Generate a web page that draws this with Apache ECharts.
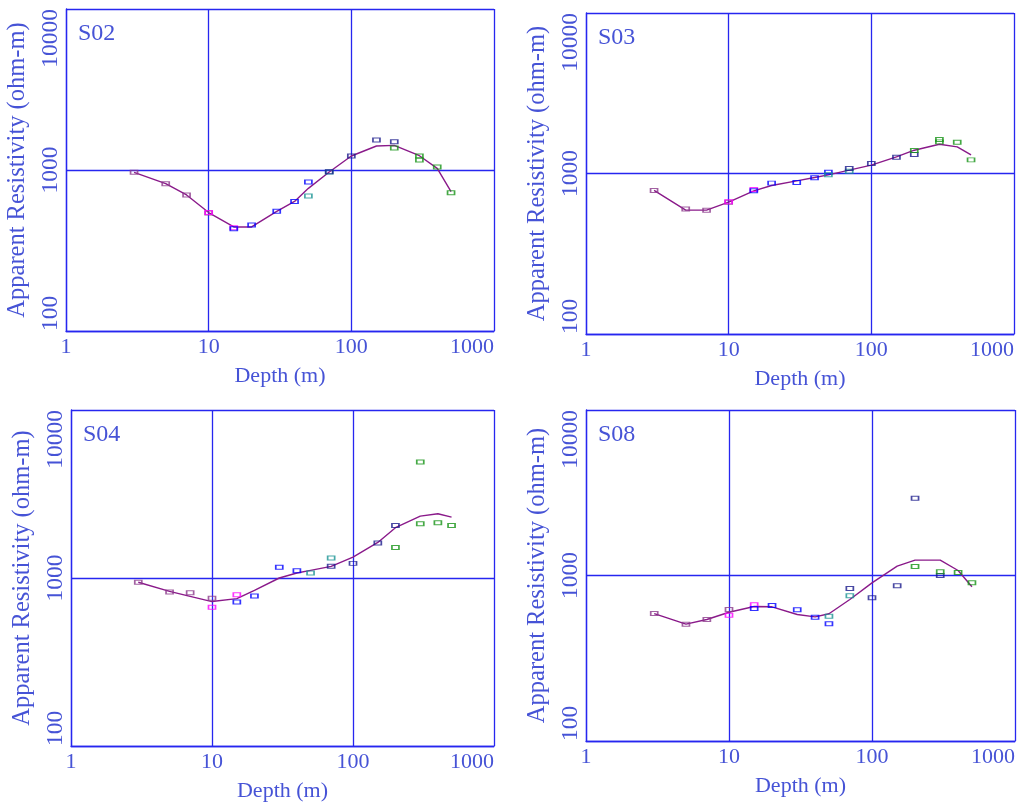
<!DOCTYPE html>
<html>
<head>
<meta charset="utf-8">
<script src="https://cdn.jsdelivr.net/npm/echarts@6/dist/echarts.min.js"></script>
<style>
  html, body { margin: 0; padding: 0; background: #fff; }
  #chart { width: 1026px; height: 803px; }
</style>
</head>
<body>
<div id="chart"></div>
<script>
  // AB/2 spacings used for the model curve
  const depths = [3, 5, 7, 10, 15, 20, 30, 40, 50, 70, 100, 150, 200, 300, 400, 500]
  const xTicks = [1, 10, 100, 1000]
  const yTicks = [100, 1000, 10000]

  // S02
  const s02Model = [967, 822, 700, 544, 443, 443, 554, 638, 769, 972, 1222, 1409, 1422, 1227, 1024, 734]
  const s02Purple = [[3, 967], [5, 822], [7, 700], [10, 541]]
  const s02Magenta = [[10, 545], [15, 438]]
  const s02Blue = [[15, 432], [20, 455], [30, 554], [40, 638], [50, 842]]
  const s02Teal = [[50, 690], [70, 972]]
  const s02Navy = [[70, 975], [100, 1222], [150, 1536], [200, 1500]]
  const s02Green = [[200, 1370], [300, 1222], [300, 1154], [400, 1044], [500, 723]]

  // S03
  const s03Model = [784, 591, 591, 663, 780, 842, 900, 944, 981, 1049, 1127, 1270, 1397, 1522, 1466, 1307]
  const s03Purple = [[3, 784], [5, 600], [7, 591], [10, 663]]
  const s03Magenta = [[10, 666], [15, 795]]
  const s03Blue = [[15, 780], [20, 871], [30, 879], [40, 940], [50, 1019]]
  const s03Teal = [[50, 981], [70, 1034]]
  const s03Navy = [[70, 1074], [100, 1154], [150, 1264], [200, 1313]]
  const s03Green = [[200, 1391], [300, 1628], [300, 1574], [400, 1566], [500, 1216]]

  // S04
  const s04Model = [943, 833, 778, 724, 754, 845, 1000, 1071, 1111, 1173, 1333, 1628, 1992, 2336, 2411, 2303]
  const s04Purple = [[3, 943], [5, 826], [7, 818], [10, 757]]
  const s04Magenta = [[10, 669], [15, 796]]
  const s04Blue = [[15, 720], [20, 782], [30, 1157], [40, 1105]]
  const s04Teal = [[50, 1071], [70, 1315]]
  const s04Navy = [[70, 1173], [100, 1222], [150, 1614], [200, 2055]]
  const s04Green = [[200, 1521], [300, 4909], [300, 2102], [400, 2132], [500, 2055]]

  // S08
  const s08Model = [589, 508, 542, 600, 650, 647, 581, 562, 587, 716, 903, 1138, 1238, 1238, 1072, 855]
  const s08Purple = [[3, 589], [5, 508], [7, 542], [10, 623]]
  const s08Magenta = [[10, 576], [15, 665]]
  const s08Blue = [[15, 632], [20, 659], [30, 620], [40, 560], [50, 511]]
  const s08Teal = [[50, 568], [70, 754]]
  const s08Navy = [[70, 835], [100, 733], [150, 866], [200, 2933], [300, 1000]]
  const s08Green = [[200, 1133], [300, 1052], [400, 1043], [500, 903]]

  const segColors = ['#8b3a8b', '#ff00ff', '#0000ff', '#1a9494', '#1c1c8c', '#169416']
  const lineColor = '#8a1a8a'
  const axisColor = '#2626f0'
  const textColor = '#4653d6'
  const serif = '"Liberation Serif", "DejaVu Serif", serif'

  const panels = [
    { name: 'S02', model: s02Model, segs: [s02Purple, s02Magenta, s02Blue, s02Teal, s02Navy, s02Green],
      grid: { left: 66, top: 9, width: 428, height: 322 } },
    { name: 'S03', model: s03Model, segs: [s03Purple, s03Magenta, s03Blue, s03Teal, s03Navy, s03Green],
      grid: { left: 586, top: 13, width: 428, height: 321 } },
    { name: 'S04', model: s04Model, segs: [s04Purple, s04Magenta, s04Blue, s04Teal, s04Navy, s04Green],
      grid: { left: 71, top: 410, width: 423, height: 337 } },
    { name: 'S08', model: s08Model, segs: [s08Purple, s08Magenta, s08Blue, s08Teal, s08Navy, s08Green],
      grid: { left: 586, top: 410, width: 429, height: 331 } }
  ]

  let option = {
    backgroundColor: '#fff',
    animation: false,
    title: [],
    grid: [],
    xAxis: [],
    yAxis: [],
    series: []
  }

  panels.forEach((p, i) => {
    option.grid.push(p.grid)
    option.title.push({
      text: p.name,
      left: p.grid.left + 7,
      top: p.grid.top + 8,
      textStyle: { color: textColor, fontFamily: serif, fontSize: 24, fontWeight: 'normal' }
    })
    option.xAxis.push({
      type: 'log',
      logBase: 10,
      gridIndex: i,
      min: xTicks[0],
      max: xTicks[xTicks.length - 1],
      name: 'Depth (m)',
      nameLocation: 'middle',
      nameGap: 34,
      nameTextStyle: { color: textColor, fontFamily: serif, fontSize: 22 },
      axisLine: { show: true, lineStyle: { color: axisColor, width: 1.3 } },
      axisTick: { show: false },
      minorTick: { show: false },
      axisLabel: {
        color: textColor, fontFamily: serif, fontSize: 22, margin: 5,
        alignMaxLabel: 'right',
        formatter: v => String(Math.round(v))
      },
      splitLine: { show: true, lineStyle: { color: axisColor, width: 1.3 } }
    })
    option.yAxis.push({
      type: 'log',
      logBase: 10,
      gridIndex: i,
      min: yTicks[0],
      max: yTicks[yTicks.length - 1],
      name: 'Apparent Resistivity (ohm-m)',
      nameLocation: 'middle',
      nameGap: 36,
      nameTextStyle: { color: textColor, fontFamily: serif, fontSize: 24.5 },
      axisLine: { show: true, lineStyle: { color: axisColor, width: 1.3 } },
      axisTick: { show: false },
      axisLabel: {
        color: textColor, fontFamily: serif, fontSize: 23.5, margin: 3, rotate: 90,
        alignMinLabel: 'left',
        alignMaxLabel: 'right',
        formatter: v => String(Math.round(v))
      },
      splitLine: { show: true, lineStyle: { color: axisColor, width: 1.3 } }
    })
    option.series.push({
      type: 'line',
      xAxisIndex: i,
      yAxisIndex: i,
      data: depths.map((d, k) => [d, p.model[k]]),
      symbol: 'none',
      lineStyle: { color: lineColor, width: 1.4 },
      z: 2
    })
    p.segs.forEach((seg, k) => {
      option.series.push({
        type: 'scatter',
        xAxisIndex: i,
        yAxisIndex: i,
        data: seg,
        symbol: 'rect',
        symbolSize: [7, 4],
        itemStyle: { color: 'rgba(255,255,255,0)', borderColor: segColors[k], borderWidth: 1.3 },
        z: 3
      })
    })
  })

  let chart = echarts.init(document.getElementById('chart'))
  chart.setOption(option)
</script>
</body>
</html>
